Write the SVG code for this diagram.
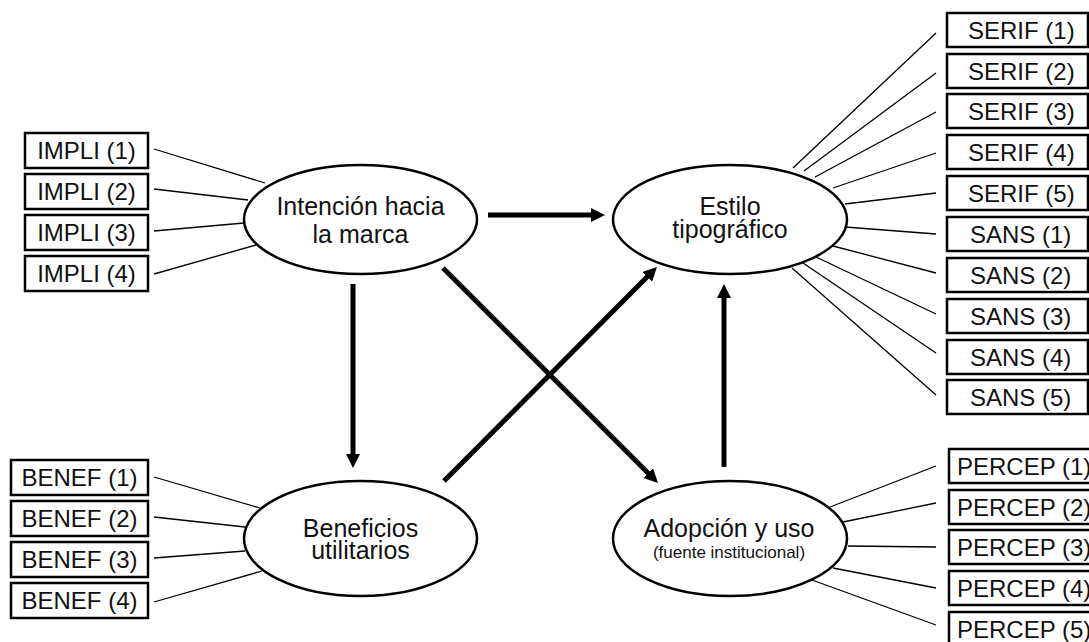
<svg xmlns="http://www.w3.org/2000/svg" width="1089" height="642" viewBox="0 0 1089 642">
<style>
.box{fill:#fff;stroke:#000;stroke-width:2.5}
.lbl{font-family:"Liberation Sans",Arial,sans-serif;font-size:24px;fill:#111}
.ell{fill:#fff;stroke:#000;stroke-width:2.5}
.et{font-family:"Liberation Sans",Arial,sans-serif;font-size:25px;fill:#111;text-anchor:middle}
.es{font-family:"Liberation Sans",Arial,sans-serif;font-size:17px;fill:#111;text-anchor:middle}
.thin{stroke:#000;stroke-width:1.3;fill:none}
.thick{stroke:#000;stroke-width:5;fill:none;marker-end:url(#ah)}
</style>
<defs>
<marker id="ah" markerUnits="userSpaceOnUse" markerWidth="14" markerHeight="14" refX="2" refY="7" orient="auto">
<path d="M0,0 L14,7 L0,14 z" fill="#000"/>
</marker>
</defs>
<rect width="1089" height="642" fill="#fff"/>
<g id="connectors">
<line class="thin" x1="154" y1="149" x2="265" y2="183"/>
<line class="thin" x1="154" y1="189" x2="248" y2="200"/>
<line class="thin" x1="154" y1="231" x2="244" y2="223"/>
<line class="thin" x1="154" y1="274" x2="256" y2="245"/>
<line class="thin" x1="154" y1="477" x2="260" y2="508"/>
<line class="thin" x1="154" y1="517" x2="245" y2="527"/>
<line class="thin" x1="154" y1="558" x2="245" y2="551"/>
<line class="thin" x1="154" y1="602" x2="262" y2="571"/>
<line class="thin" x1="936" y1="33" x2="793" y2="168"/>
<line class="thin" x1="936" y1="73" x2="804" y2="171"/>
<line class="thin" x1="936" y1="112" x2="815" y2="177"/>
<line class="thin" x1="936" y1="153" x2="833" y2="188"/>
<line class="thin" x1="936" y1="193" x2="845" y2="204"/>
<line class="thin" x1="936" y1="234" x2="845" y2="227"/>
<line class="thin" x1="936" y1="273" x2="833" y2="246"/>
<line class="thin" x1="936" y1="314" x2="816" y2="257"/>
<line class="thin" x1="936" y1="353" x2="803" y2="263"/>
<line class="thin" x1="936" y1="395" x2="792" y2="268"/>
<line class="thin" x1="936" y1="466" x2="830" y2="507"/>
<line class="thin" x1="936" y1="503" x2="843" y2="522"/>
<line class="thin" x1="936" y1="547" x2="848" y2="546"/>
<line class="thin" x1="936" y1="588" x2="833" y2="568"/>
<line class="thin" x1="936" y1="625" x2="812" y2="580"/>
<line class="thick" x1="488" y1="215" x2="593" y2="215"/>
<line class="thick" x1="353" y1="284" x2="353" y2="456"/>
<line class="thick" x1="443" y1="268" x2="649.5" y2="474.5"/>
<line class="thick" x1="444" y1="481" x2="648.5" y2="275.5"/>
<line class="thick" x1="724" y1="467" x2="724" y2="296"/>
</g>
<g id="intencion">
<ellipse class="ell" cx="360.5" cy="219.5" rx="116.5" ry="54.5"/>
<text class="et" x="360.5" y="215">Intención hacia</text>
<text class="et" x="360.5" y="243">la marca</text>
</g>
<g id="estilo">
<ellipse class="ell" cx="730" cy="219.5" rx="117" ry="54.5"/>
<text class="et" x="730" y="215">Estilo</text>
<text class="et" x="730" y="238">tipográfico</text>
</g>
<g id="beneficios">
<ellipse class="ell" cx="360.5" cy="538.5" rx="116.5" ry="57.5"/>
<text class="et" x="360.5" y="537">Beneficios</text>
<text class="et" x="360.5" y="559">utilitarios</text>
</g>
<g id="adopcion">
<ellipse class="ell" cx="730" cy="538.5" rx="117" ry="57.5"/>
<text class="et" x="729" y="537">Adopción y uso</text>
<text class="es" x="729" y="558">(fuente institucional)</text>
</g>
<g id="impli1"><rect class="box" x="25" y="133" width="123" height="35"/><text class="lbl" x="86.5" y="159" text-anchor="middle">IMPLI (1)</text></g>
<g id="impli2"><rect class="box" x="25" y="174" width="123" height="35"/><text class="lbl" x="86.5" y="200" text-anchor="middle">IMPLI (2)</text></g>
<g id="impli3"><rect class="box" x="25" y="215" width="123" height="35"/><text class="lbl" x="86.5" y="241" text-anchor="middle">IMPLI (3)</text></g>
<g id="impli4"><rect class="box" x="25" y="256" width="123" height="35"/><text class="lbl" x="86.5" y="282" text-anchor="middle">IMPLI (4)</text></g>
<g id="benef1"><rect class="box" x="11" y="460" width="137" height="35"/><text class="lbl" x="79.5" y="486" text-anchor="middle">BENEF (1)</text></g>
<g id="benef2"><rect class="box" x="11" y="501" width="137" height="35"/><text class="lbl" x="79.5" y="527" text-anchor="middle">BENEF (2)</text></g>
<g id="benef3"><rect class="box" x="11" y="542" width="137" height="35"/><text class="lbl" x="79.5" y="568" text-anchor="middle">BENEF (3)</text></g>
<g id="benef4"><rect class="box" x="11" y="583" width="137" height="35"/><text class="lbl" x="79.5" y="609" text-anchor="middle">BENEF (4)</text></g>
<g id="serif1"><rect class="box" x="947" y="13" width="141" height="34"/><text class="lbl" x="968" y="38.5">SERIF (1)</text></g>
<g id="serif2"><rect class="box" x="947" y="54" width="141" height="34"/><text class="lbl" x="968" y="79.5">SERIF (2)</text></g>
<g id="serif3"><rect class="box" x="947" y="94" width="141" height="34"/><text class="lbl" x="968" y="119.5">SERIF (3)</text></g>
<g id="serif4"><rect class="box" x="947" y="135" width="141" height="34"/><text class="lbl" x="968" y="160.5">SERIF (4)</text></g>
<g id="serif5"><rect class="box" x="947" y="176" width="141" height="34"/><text class="lbl" x="968" y="201.5">SERIF (5)</text></g>
<g id="sans1"><rect class="box" x="947" y="217" width="141" height="34"/><text class="lbl" x="970" y="242.5">SANS (1)</text></g>
<g id="sans2"><rect class="box" x="947" y="258" width="141" height="34"/><text class="lbl" x="970" y="283.5">SANS (2)</text></g>
<g id="sans3"><rect class="box" x="947" y="299" width="141" height="34"/><text class="lbl" x="970" y="324.5">SANS (3)</text></g>
<g id="sans4"><rect class="box" x="947" y="340" width="141" height="34"/><text class="lbl" x="970" y="365.5">SANS (4)</text></g>
<g id="sans5"><rect class="box" x="947" y="380" width="141" height="34"/><text class="lbl" x="970" y="405.5">SANS (5)</text></g>
<g id="percep1"><rect class="box" x="949" y="449" width="160" height="34"/><text class="lbl" x="957" y="474.5">PERCEP (1)</text></g>
<g id="percep2"><rect class="box" x="949" y="490" width="160" height="34"/><text class="lbl" x="957" y="515.5">PERCEP (2)</text></g>
<g id="percep3"><rect class="box" x="949" y="530" width="160" height="34"/><text class="lbl" x="957" y="555.5">PERCEP (3)</text></g>
<g id="percep4"><rect class="box" x="949" y="571" width="160" height="34"/><text class="lbl" x="957" y="596.5">PERCEP (4)</text></g>
<g id="percep5"><rect class="box" x="949" y="612" width="160" height="34"/><text class="lbl" x="957" y="637.5">PERCEP (5)</text></g>
</svg>
